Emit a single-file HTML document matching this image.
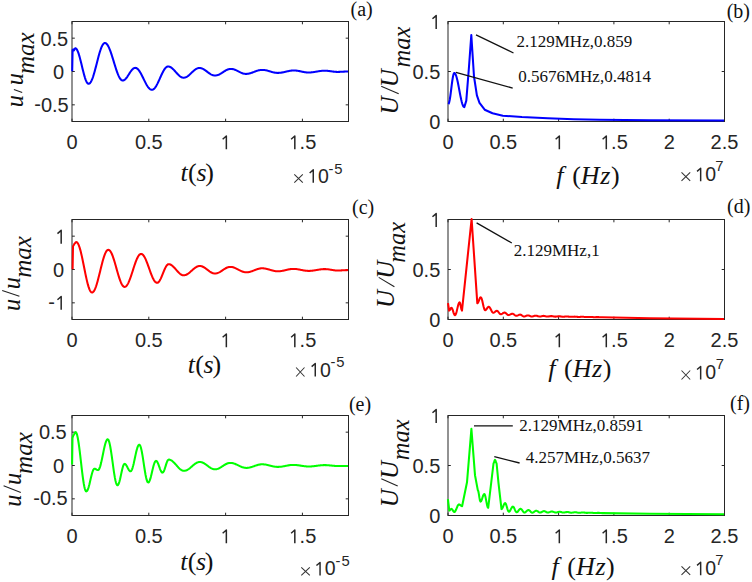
<!DOCTYPE html>
<html><head><meta charset="utf-8"><style>
html,body{margin:0;padding:0;background:#fff;width:752px;height:582px;overflow:hidden;}
svg{display:block;}

</style></head><body>
<svg width="752" height="582" viewBox="0 0 752 582"><path d="M72 121.5 V118.7 M72 21.5 V24.3 M148.81 121.5 V118.7 M148.81 21.5 V24.3 M225.61 121.5 V118.7 M225.61 21.5 V24.3 M302.42 121.5 V118.7 M302.42 21.5 V24.3 M72 38.17 H74.8 M348.5 38.17 H345.7 M72 71.5 H74.8 M348.5 71.5 H345.7 M72 104.83 H74.8 M348.5 104.83 H345.7" stroke="#262626" stroke-width="1" fill="none"/>
<rect x="72" y="21.5" width="276.5" height="100" stroke="#262626" stroke-width="1" fill="none"/>
<path d="M448 121.5 V118.7 M448 21.5 V24.3 M503.3 121.5 V118.7 M503.3 21.5 V24.3 M558.6 121.5 V118.7 M558.6 21.5 V24.3 M613.9 121.5 V118.7 M613.9 21.5 V24.3 M669.2 121.5 V118.7 M669.2 21.5 V24.3 M724.5 121.5 V118.7 M724.5 21.5 V24.3 M448 121.5 H450.8 M724.5 121.5 H721.7 M448 71.5 H450.8 M724.5 71.5 H721.7 M448 21.5 H450.8 M724.5 21.5 H721.7" stroke="#262626" stroke-width="1" fill="none"/>
<rect x="448" y="21.5" width="276.5" height="100" stroke="#262626" stroke-width="1" fill="none"/>
<text x="72" y="149.3" font-family="Liberation Sans" font-size="20" text-anchor="middle" fill="#262626">0</text>
<text x="148.81" y="149.3" font-family="Liberation Sans" font-size="20" text-anchor="middle" fill="#262626">0.5</text>
<path d="M226.35 149.3 V136 L222.65 139.2" stroke="#262626" stroke-width="1.5" fill="none" stroke-linejoin="round"/>
<text x="225.61" y="149.3" font-family="Liberation Sans" font-size="20" text-anchor="middle" fill="#262626">&#x2007;</text>
<path d="M294.82 149.3 V136 L291.12 139.2" stroke="#262626" stroke-width="1.5" fill="none" stroke-linejoin="round"/>
<text x="302.42" y="149.3" font-family="Liberation Sans" font-size="20" text-anchor="middle" fill="#262626">&#x2007;.5</text>
<text x="448" y="149.3" font-family="Liberation Sans" font-size="20" text-anchor="middle" fill="#262626">0</text>
<text x="503.3" y="149.3" font-family="Liberation Sans" font-size="20" text-anchor="middle" fill="#262626">0.5</text>
<path d="M559.34 149.3 V136 L555.64 139.2" stroke="#262626" stroke-width="1.5" fill="none" stroke-linejoin="round"/>
<text x="558.6" y="149.3" font-family="Liberation Sans" font-size="20" text-anchor="middle" fill="#262626">&#x2007;</text>
<path d="M606.3 149.3 V136 L602.6 139.2" stroke="#262626" stroke-width="1.5" fill="none" stroke-linejoin="round"/>
<text x="613.9" y="149.3" font-family="Liberation Sans" font-size="20" text-anchor="middle" fill="#262626">&#x2007;.5</text>
<text x="669.2" y="149.3" font-family="Liberation Sans" font-size="20" text-anchor="middle" fill="#262626">2</text>
<text x="724.5" y="149.3" font-family="Liberation Sans" font-size="20" text-anchor="middle" fill="#262626">2.5</text>
<text x="68.2" y="45.67" font-family="Liberation Sans" font-size="20" text-anchor="end" fill="#262626">0.5</text>
<text x="64" y="79" font-family="Liberation Sans" font-size="20" text-anchor="end" fill="#262626">0</text>
<text x="68.7" y="111.83" font-family="Liberation Sans" font-size="20" text-anchor="end" fill="#262626"><tspan dy="-0.7">-</tspan><tspan dy="0.7">0.5</tspan></text>
<text x="440.3" y="128.9" font-family="Liberation Sans" font-size="20" text-anchor="end" fill="#262626">0</text>
<text x="440.3" y="78.9" font-family="Liberation Sans" font-size="20" text-anchor="end" fill="#262626">0.5</text>
<path d="M436.18 28.9 V15.6 L432.48 18.8" stroke="#262626" stroke-width="1.5" fill="none" stroke-linejoin="round"/>
<text x="441" y="28.9" font-family="Liberation Sans" font-size="20" text-anchor="end" fill="#262626">&#x2007;</text>
<text x="180.6" y="181.1" font-family="Liberation Serif" font-size="26" fill="#111"><tspan font-style="italic">t</tspan><tspan dx="0.2">(</tspan><tspan font-style="italic" dx="-0.3">s</tspan><tspan dx="-1.3">)</tspan></text>
<text x="556.3" y="184" font-family="Liberation Serif" font-size="26" fill="#111"><tspan font-style="italic">f</tspan><tspan dx="8.6">(</tspan><tspan font-style="italic">H</tspan><tspan font-style="italic" dx="0.6">z</tspan><tspan dx="0.6">)</tspan></text>
<path d="M294.3 174.4 L302.8 182.6 M294.3 182.6 L302.8 174.4" stroke="#333" stroke-width="1.05" fill="none"/>
<path d="M313.26 182.8 V169.83 L309.65 172.95" stroke="#262626" stroke-width="1.46" fill="none" stroke-linejoin="round"/>
<text x="307.12" y="182.8" font-family="Liberation Sans" font-size="19.5" text-anchor="start" fill="#262626">&#x2007;0</text>
<text x="328.41" y="173.5" font-family="Liberation Sans" font-size="14.8" fill="#262626">-<tspan dx="1">5</tspan></text>
<path d="M681.5 172.3 L690.2 180.8 M681.5 180.8 L690.2 172.3" stroke="#333" stroke-width="1.05" fill="none"/>
<path d="M700.66 181.2 V168.23 L697.05 171.35" stroke="#262626" stroke-width="1.46" fill="none" stroke-linejoin="round"/>
<text x="694.52" y="181.2" font-family="Liberation Sans" font-size="19.5" text-anchor="start" fill="#262626">&#x2007;0</text>
<text x="715.26" y="171.3" font-family="Liberation Sans" font-size="14.8" fill="#262626">7</text>
<text transform="translate(23 107.3) rotate(-90)" font-family="Liberation Serif" font-style="italic" font-size="24.5" fill="#111">u</text>
<text transform="translate(23 85.3) rotate(-90)" font-family="Liberation Serif" font-style="italic" font-size="24.5" fill="#111">u</text>
<text transform="translate(33.8 74) rotate(-90)" font-family="Liberation Serif" font-style="italic" font-size="25" fill="#111">max</text>
<path d="M13.9 89.4 L22.2 92.6" stroke="#222" stroke-width="1.1" fill="none"/>
<text transform="translate(398.45 114.5) rotate(-90)" font-family="Liberation Serif" font-style="italic" font-size="25" fill="#111">U</text>
<text transform="translate(398.45 87.2) rotate(-90)" font-family="Liberation Serif" font-style="italic" font-size="25" fill="#111">U</text>
<text transform="translate(409.5 67.4) rotate(-90)" font-family="Liberation Serif" font-style="italic" font-size="24.5" fill="#111">max</text>
<path d="M381.2 86.3 L398.7 93.8" stroke="#222" stroke-width="1.1" fill="none"/>
<text x="350.5" y="16" font-family="Liberation Serif" font-size="20" text-anchor="start" fill="#111">(a)</text>
<text x="726.7" y="17.6" font-family="Liberation Serif" font-size="20" text-anchor="start" fill="#111">(b)</text>
<path d="M72 319.5 V316.7 M72 219.5 V222.3 M148.81 319.5 V316.7 M148.81 219.5 V222.3 M225.61 319.5 V316.7 M225.61 219.5 V222.3 M302.42 319.5 V316.7 M302.42 219.5 V222.3 M72 236.17 H74.8 M348.5 236.17 H345.7 M72 269.5 H74.8 M348.5 269.5 H345.7 M72 302.83 H74.8 M348.5 302.83 H345.7" stroke="#262626" stroke-width="1" fill="none"/>
<rect x="72" y="219.5" width="276.5" height="100" stroke="#262626" stroke-width="1" fill="none"/>
<path d="M448 319.5 V316.7 M448 219.5 V222.3 M503.3 319.5 V316.7 M503.3 219.5 V222.3 M558.6 319.5 V316.7 M558.6 219.5 V222.3 M613.9 319.5 V316.7 M613.9 219.5 V222.3 M669.2 319.5 V316.7 M669.2 219.5 V222.3 M724.5 319.5 V316.7 M724.5 219.5 V222.3 M448 319.5 H450.8 M724.5 319.5 H721.7 M448 269.5 H450.8 M724.5 269.5 H721.7 M448 219.5 H450.8 M724.5 219.5 H721.7" stroke="#262626" stroke-width="1" fill="none"/>
<rect x="448" y="219.5" width="276.5" height="100" stroke="#262626" stroke-width="1" fill="none"/>
<text x="72" y="347.3" font-family="Liberation Sans" font-size="20" text-anchor="middle" fill="#262626">0</text>
<text x="148.81" y="347.3" font-family="Liberation Sans" font-size="20" text-anchor="middle" fill="#262626">0.5</text>
<path d="M226.35 347.3 V334 L222.65 337.2" stroke="#262626" stroke-width="1.5" fill="none" stroke-linejoin="round"/>
<text x="225.61" y="347.3" font-family="Liberation Sans" font-size="20" text-anchor="middle" fill="#262626">&#x2007;</text>
<path d="M294.82 347.3 V334 L291.12 337.2" stroke="#262626" stroke-width="1.5" fill="none" stroke-linejoin="round"/>
<text x="302.42" y="347.3" font-family="Liberation Sans" font-size="20" text-anchor="middle" fill="#262626">&#x2007;.5</text>
<text x="448" y="347.3" font-family="Liberation Sans" font-size="20" text-anchor="middle" fill="#262626">0</text>
<text x="503.3" y="347.3" font-family="Liberation Sans" font-size="20" text-anchor="middle" fill="#262626">0.5</text>
<path d="M559.34 347.3 V334 L555.64 337.2" stroke="#262626" stroke-width="1.5" fill="none" stroke-linejoin="round"/>
<text x="558.6" y="347.3" font-family="Liberation Sans" font-size="20" text-anchor="middle" fill="#262626">&#x2007;</text>
<path d="M606.3 347.3 V334 L602.6 337.2" stroke="#262626" stroke-width="1.5" fill="none" stroke-linejoin="round"/>
<text x="613.9" y="347.3" font-family="Liberation Sans" font-size="20" text-anchor="middle" fill="#262626">&#x2007;.5</text>
<text x="669.2" y="347.3" font-family="Liberation Sans" font-size="20" text-anchor="middle" fill="#262626">2</text>
<text x="724.5" y="347.3" font-family="Liberation Sans" font-size="20" text-anchor="middle" fill="#262626">2.5</text>
<path d="M61.18 243.67 V230.37 L57.48 233.57" stroke="#262626" stroke-width="1.5" fill="none" stroke-linejoin="round"/>
<text x="66" y="243.67" font-family="Liberation Sans" font-size="20" text-anchor="end" fill="#262626">&#x2007;</text>
<text x="64" y="277" font-family="Liberation Sans" font-size="20" text-anchor="end" fill="#262626">0</text>
<path d="M61.18 309.83 V296.53 L57.48 299.73" stroke="#262626" stroke-width="1.5" fill="none" stroke-linejoin="round"/>
<text x="66" y="309.83" font-family="Liberation Sans" font-size="20" text-anchor="end" fill="#262626"><tspan dy="-0.7">-</tspan><tspan dy="0.7">&#x2007;</tspan></text>
<text x="440.3" y="326.9" font-family="Liberation Sans" font-size="20" text-anchor="end" fill="#262626">0</text>
<text x="440.3" y="276.9" font-family="Liberation Sans" font-size="20" text-anchor="end" fill="#262626">0.5</text>
<path d="M436.18 226.9 V213.6 L432.48 216.8" stroke="#262626" stroke-width="1.5" fill="none" stroke-linejoin="round"/>
<text x="441" y="226.9" font-family="Liberation Sans" font-size="20" text-anchor="end" fill="#262626">&#x2007;</text>
<text x="187.8" y="372.7" font-family="Liberation Serif" font-size="26" fill="#111"><tspan font-style="italic">t</tspan><tspan dx="0.2">(</tspan><tspan font-style="italic" dx="-0.3">s</tspan><tspan dx="-1.3">)</tspan></text>
<text x="548.2" y="377.3" font-family="Liberation Serif" font-size="26" fill="#111"><tspan font-style="italic">f</tspan><tspan dx="8.6">(</tspan><tspan font-style="italic">H</tspan><tspan font-style="italic" dx="0.6">z</tspan><tspan dx="0.6">)</tspan></text>
<path d="M296.1 367.5 L304.5 376.5 M296.1 376.5 L304.5 367.5" stroke="#333" stroke-width="1.05" fill="none"/>
<path d="M315.26 376.5 V363.53 L311.65 366.65" stroke="#262626" stroke-width="1.46" fill="none" stroke-linejoin="round"/>
<text x="309.12" y="376.5" font-family="Liberation Sans" font-size="19.5" text-anchor="start" fill="#262626">&#x2007;0</text>
<text x="330.41" y="366.5" font-family="Liberation Sans" font-size="14.8" fill="#262626">-<tspan dx="1">5</tspan></text>
<path d="M681.5 370.5 L690.2 379.5 M681.5 379.5 L690.2 370.5" stroke="#333" stroke-width="1.05" fill="none"/>
<path d="M700.66 379.4 V366.43 L697.05 369.55" stroke="#262626" stroke-width="1.46" fill="none" stroke-linejoin="round"/>
<text x="694.52" y="379.4" font-family="Liberation Sans" font-size="19.5" text-anchor="start" fill="#262626">&#x2007;0</text>
<text x="715.66" y="369.1" font-family="Liberation Sans" font-size="14.8" fill="#262626">7</text>
<text transform="translate(19.5 310.9) rotate(-90)" font-family="Liberation Serif" font-style="italic" font-size="24.5" fill="#111">u</text>
<text transform="translate(19.5 289.3) rotate(-90)" font-family="Liberation Serif" font-style="italic" font-size="24.5" fill="#111">u</text>
<text transform="translate(30.6 277.8) rotate(-90)" font-family="Liberation Serif" font-style="italic" font-size="25" fill="#111">max</text>
<path d="M2.2 290.5 L19.4 296.3" stroke="#222" stroke-width="1.1" fill="none"/>
<text transform="translate(394.15 307.9) rotate(-90)" font-family="Liberation Serif" font-style="italic" font-size="25" fill="#111">U</text>
<text transform="translate(394.15 278.7) rotate(-90)" font-family="Liberation Serif" font-style="italic" font-size="25" fill="#111">U</text>
<text transform="translate(404.7 262.7) rotate(-90)" font-family="Liberation Serif" font-style="italic" font-size="24.5" fill="#111">max</text>
<path d="M378.7 277.4 L394.4 286.7" stroke="#222" stroke-width="1.1" fill="none"/>
<text x="352" y="214" font-family="Liberation Serif" font-size="20" text-anchor="start" fill="#111">(c)</text>
<text x="727.1" y="213" font-family="Liberation Serif" font-size="20" text-anchor="start" fill="#111">(d)</text>
<path d="M72 515.5 V512.7 M72 415.5 V418.3 M148.81 515.5 V512.7 M148.81 415.5 V418.3 M225.61 515.5 V512.7 M225.61 415.5 V418.3 M302.42 515.5 V512.7 M302.42 415.5 V418.3 M72 432.17 H74.8 M348.5 432.17 H345.7 M72 465.5 H74.8 M348.5 465.5 H345.7 M72 498.83 H74.8 M348.5 498.83 H345.7" stroke="#262626" stroke-width="1" fill="none"/>
<rect x="72" y="415.5" width="276.5" height="100" stroke="#262626" stroke-width="1" fill="none"/>
<path d="M448 515.5 V512.7 M448 415.5 V418.3 M503.3 515.5 V512.7 M503.3 415.5 V418.3 M558.6 515.5 V512.7 M558.6 415.5 V418.3 M613.9 515.5 V512.7 M613.9 415.5 V418.3 M669.2 515.5 V512.7 M669.2 415.5 V418.3 M724.5 515.5 V512.7 M724.5 415.5 V418.3 M448 515.5 H450.8 M724.5 515.5 H721.7 M448 465.5 H450.8 M724.5 465.5 H721.7 M448 415.5 H450.8 M724.5 415.5 H721.7" stroke="#262626" stroke-width="1" fill="none"/>
<rect x="448" y="415.5" width="276.5" height="100" stroke="#262626" stroke-width="1" fill="none"/>
<text x="72" y="543.3" font-family="Liberation Sans" font-size="20" text-anchor="middle" fill="#262626">0</text>
<text x="148.81" y="543.3" font-family="Liberation Sans" font-size="20" text-anchor="middle" fill="#262626">0.5</text>
<path d="M226.35 543.3 V530 L222.65 533.2" stroke="#262626" stroke-width="1.5" fill="none" stroke-linejoin="round"/>
<text x="225.61" y="543.3" font-family="Liberation Sans" font-size="20" text-anchor="middle" fill="#262626">&#x2007;</text>
<path d="M294.82 543.3 V530 L291.12 533.2" stroke="#262626" stroke-width="1.5" fill="none" stroke-linejoin="round"/>
<text x="302.42" y="543.3" font-family="Liberation Sans" font-size="20" text-anchor="middle" fill="#262626">&#x2007;.5</text>
<text x="448" y="543.3" font-family="Liberation Sans" font-size="20" text-anchor="middle" fill="#262626">0</text>
<text x="503.3" y="543.3" font-family="Liberation Sans" font-size="20" text-anchor="middle" fill="#262626">0.5</text>
<path d="M559.34 543.3 V530 L555.64 533.2" stroke="#262626" stroke-width="1.5" fill="none" stroke-linejoin="round"/>
<text x="558.6" y="543.3" font-family="Liberation Sans" font-size="20" text-anchor="middle" fill="#262626">&#x2007;</text>
<path d="M606.3 543.3 V530 L602.6 533.2" stroke="#262626" stroke-width="1.5" fill="none" stroke-linejoin="round"/>
<text x="613.9" y="543.3" font-family="Liberation Sans" font-size="20" text-anchor="middle" fill="#262626">&#x2007;.5</text>
<text x="669.2" y="543.3" font-family="Liberation Sans" font-size="20" text-anchor="middle" fill="#262626">2</text>
<text x="724.5" y="543.3" font-family="Liberation Sans" font-size="20" text-anchor="middle" fill="#262626">2.5</text>
<text x="66.7" y="438.87" font-family="Liberation Sans" font-size="20" text-anchor="end" fill="#262626">0.5</text>
<text x="64" y="473" font-family="Liberation Sans" font-size="20" text-anchor="end" fill="#262626">0</text>
<text x="67.7" y="505.33" font-family="Liberation Sans" font-size="20" text-anchor="end" fill="#262626"><tspan dy="-0.7">-</tspan><tspan dy="0.7">0.5</tspan></text>
<text x="440.3" y="522.9" font-family="Liberation Sans" font-size="20" text-anchor="end" fill="#262626">0</text>
<text x="440.3" y="472.9" font-family="Liberation Sans" font-size="20" text-anchor="end" fill="#262626">0.5</text>
<path d="M436.18 422.9 V409.6 L432.48 412.8" stroke="#262626" stroke-width="1.5" fill="none" stroke-linejoin="round"/>
<text x="441" y="422.9" font-family="Liberation Sans" font-size="20" text-anchor="end" fill="#262626">&#x2007;</text>
<text x="180.2" y="569.7" font-family="Liberation Serif" font-size="26" fill="#111"><tspan font-style="italic">t</tspan><tspan dx="0.2">(</tspan><tspan font-style="italic" dx="-0.3">s</tspan><tspan dx="-1.3">)</tspan></text>
<text x="551.5" y="575.1" font-family="Liberation Serif" font-size="26" fill="#111"><tspan font-style="italic">f</tspan><tspan dx="8.6">(</tspan><tspan font-style="italic">H</tspan><tspan font-style="italic" dx="0.6">z</tspan><tspan dx="0.6">)</tspan></text>
<path d="M301.3 567.3 L309.8 575.4 M301.3 575.4 L309.8 567.3" stroke="#333" stroke-width="1.05" fill="none"/>
<path d="M320.06 575.4 V562.43 L316.45 565.55" stroke="#262626" stroke-width="1.46" fill="none" stroke-linejoin="round"/>
<text x="313.92" y="575.4" font-family="Liberation Sans" font-size="19.5" text-anchor="start" fill="#262626">&#x2007;0</text>
<text x="335.61" y="565.5" font-family="Liberation Sans" font-size="14.8" fill="#262626">-<tspan dx="1">5</tspan></text>
<path d="M681.5 566.3 L690.2 574.8 M681.5 574.8 L690.2 566.3" stroke="#333" stroke-width="1.05" fill="none"/>
<path d="M700.66 575.2 V562.23 L697.05 565.35" stroke="#262626" stroke-width="1.46" fill="none" stroke-linejoin="round"/>
<text x="694.52" y="575.2" font-family="Liberation Sans" font-size="19.5" text-anchor="start" fill="#262626">&#x2007;0</text>
<text x="715.26" y="564.9" font-family="Liberation Sans" font-size="14.8" fill="#262626">7</text>
<text transform="translate(20.9 506.7) rotate(-90)" font-family="Liberation Serif" font-style="italic" font-size="24.5" fill="#111">u</text>
<text transform="translate(20.9 485) rotate(-90)" font-family="Liberation Serif" font-style="italic" font-size="24.5" fill="#111">u</text>
<text transform="translate(31.7 473.9) rotate(-90)" font-family="Liberation Serif" font-style="italic" font-size="25" fill="#111">max</text>
<path d="M3.6 485.8 L20.8 492.5" stroke="#222" stroke-width="1.1" fill="none"/>
<text transform="translate(398.05 507.3) rotate(-90)" font-family="Liberation Serif" font-style="italic" font-size="25" fill="#111">U</text>
<text transform="translate(398.05 479.1) rotate(-90)" font-family="Liberation Serif" font-style="italic" font-size="25" fill="#111">U</text>
<text transform="translate(408.6 460.3) rotate(-90)" font-family="Liberation Serif" font-style="italic" font-size="24.5" fill="#111">max</text>
<path d="M381.3 478.8 L397.7 486" stroke="#222" stroke-width="1.1" fill="none"/>
<text x="348.9" y="410.5" font-family="Liberation Serif" font-size="20" text-anchor="start" fill="#111">(e)</text>
<text x="730" y="409.8" font-family="Liberation Serif" font-size="20" text-anchor="start" fill="#111">(f)</text>
<path d="M72.2 71.2 L72.6 50 L73.2 49.4 L73.9 50.5 L74.55 49.35 L75.2 48.2 L75.72 48.33 L76.23 48.72 L76.75 49.36 L77.26 50.24 L77.78 51.35 L78.29 52.68 L78.81 54.2 L79.32 55.89 L79.84 57.73 L80.35 59.69 L80.87 61.74 L81.38 63.85 L81.9 66 L82.42 68.15 L82.93 70.26 L83.45 72.31 L83.96 74.27 L84.48 76.11 L84.99 77.8 L85.51 79.32 L86.02 80.65 L86.54 81.76 L87.05 82.64 L87.57 83.28 L88.08 83.67 L88.6 83.8 L89.11 83.7 L89.62 83.41 L90.13 82.92 L90.64 82.25 L91.15 81.39 L91.66 80.36 L92.17 79.17 L92.67 77.82 L93.18 76.34 L93.69 74.73 L94.2 73.02 L94.71 71.21 L95.22 69.32 L95.73 67.38 L96.24 65.4 L96.75 63.4 L97.26 61.4 L97.77 59.42 L98.28 57.48 L98.79 55.59 L99.3 53.78 L99.81 52.07 L100.32 50.46 L100.83 48.98 L101.33 47.63 L101.84 46.44 L102.35 45.41 L102.86 44.55 L103.37 43.88 L103.88 43.39 L104.39 43.1 L104.9 43 L105.41 43.08 L105.92 43.3 L106.43 43.68 L106.93 44.2 L107.44 44.86 L107.95 45.65 L108.46 46.58 L108.97 47.63 L109.48 48.79 L109.99 50.06 L110.49 51.42 L111 52.86 L111.51 54.38 L112.02 55.96 L112.53 57.58 L113.04 59.23 L113.55 60.91 L114.05 62.59 L114.56 64.27 L115.07 65.92 L115.58 67.54 L116.09 69.12 L116.6 70.64 L117.11 72.08 L117.61 73.44 L118.12 74.71 L118.63 75.87 L119.14 76.92 L119.65 77.85 L120.16 78.64 L120.67 79.3 L121.17 79.82 L121.68 80.2 L122.19 80.42 L122.7 80.5 L123.22 80.45 L123.74 80.28 L124.26 80.02 L124.78 79.65 L125.3 79.19 L125.83 78.65 L126.35 78.03 L126.87 77.34 L127.39 76.6 L127.91 75.81 L128.43 75 L128.95 74.17 L129.47 73.35 L129.99 72.54 L130.51 71.75 L131.03 71.01 L131.55 70.32 L132.07 69.7 L132.6 69.16 L133.12 68.7 L133.64 68.33 L134.16 68.07 L134.68 67.9 L135.2 67.85 L135.71 67.9 L136.21 68.05 L136.72 68.29 L137.22 68.64 L137.73 69.07 L138.24 69.59 L138.74 70.2 L139.25 70.88 L139.75 71.64 L140.26 72.46 L140.77 73.34 L141.27 74.27 L141.78 75.24 L142.28 76.24 L142.79 77.26 L143.3 78.3 L143.8 79.35 L144.31 80.39 L144.82 81.41 L145.32 82.41 L145.83 83.38 L146.33 84.31 L146.84 85.19 L147.35 86.01 L147.85 86.77 L148.36 87.45 L148.86 88.06 L149.37 88.58 L149.88 89.01 L150.38 89.36 L150.89 89.6 L151.39 89.75 L151.9 89.8 L152.41 89.74 L152.91 89.58 L153.42 89.3 L153.93 88.91 L154.43 88.42 L154.94 87.84 L155.44 87.16 L155.95 86.39 L156.46 85.54 L156.96 84.62 L157.47 83.64 L157.97 82.61 L158.48 81.53 L158.99 80.42 L159.49 79.29 L160 78.15 L160.51 77.01 L161.01 75.88 L161.52 74.77 L162.03 73.69 L162.53 72.66 L163.04 71.68 L163.54 70.76 L164.05 69.91 L164.56 69.14 L165.06 68.46 L165.57 67.88 L166.07 67.39 L166.58 67 L167.09 66.72 L167.59 66.56 L168.1 66.5 L168.6 66.53 L169.1 66.61 L169.6 66.76 L170.1 66.95 L170.6 67.2 L171.1 67.5 L171.6 67.85 L172.1 68.24 L172.6 68.67 L173.1 69.14 L173.6 69.63 L174.1 70.16 L174.6 70.7 L175.1 71.25 L175.6 71.82 L176.1 72.38 L176.6 72.95 L177.1 73.5 L177.6 74.04 L178.1 74.57 L178.6 75.06 L179.1 75.53 L179.6 75.96 L180.1 76.35 L180.6 76.7 L181.1 77 L181.6 77.25 L182.1 77.44 L182.6 77.59 L183.1 77.67 L183.6 77.7 L184.11 77.68 L184.62 77.6 L185.13 77.48 L185.64 77.31 L186.15 77.09 L186.66 76.83 L187.17 76.53 L187.68 76.19 L188.19 75.82 L188.7 75.42 L189.21 74.99 L189.72 74.53 L190.23 74.07 L190.74 73.58 L191.25 73.1 L191.75 72.6 L192.26 72.12 L192.77 71.63 L193.28 71.17 L193.79 70.71 L194.3 70.28 L194.81 69.88 L195.32 69.51 L195.83 69.17 L196.34 68.87 L196.85 68.61 L197.36 68.39 L197.87 68.22 L198.38 68.1 L198.89 68.02 L199.4 68 L199.9 68.02 L200.41 68.08 L200.91 68.17 L201.41 68.3 L201.92 68.47 L202.42 68.67 L202.92 68.9 L203.43 69.17 L203.93 69.45 L204.43 69.77 L204.94 70.1 L205.44 70.45 L205.94 70.81 L206.45 71.18 L206.95 71.56 L207.45 71.94 L207.95 72.32 L208.46 72.69 L208.96 73.05 L209.46 73.4 L209.97 73.73 L210.47 74.05 L210.97 74.33 L211.48 74.6 L211.98 74.83 L212.48 75.03 L212.99 75.2 L213.49 75.33 L213.99 75.42 L214.5 75.48 L215 75.5 L215.51 75.48 L216.03 75.43 L216.54 75.35 L217.05 75.23 L217.56 75.09 L218.08 74.91 L218.59 74.7 L219.1 74.47 L219.62 74.22 L220.13 73.95 L220.64 73.65 L221.15 73.35 L221.67 73.03 L222.18 72.7 L222.69 72.37 L223.21 72.03 L223.72 71.7 L224.23 71.37 L224.75 71.05 L225.26 70.75 L225.77 70.45 L226.28 70.18 L226.8 69.93 L227.31 69.7 L227.82 69.49 L228.34 69.31 L228.85 69.17 L229.36 69.05 L229.87 68.97 L230.39 68.92 L230.9 68.9 L231.4 68.91 L231.9 68.95 L232.4 69.02 L232.9 69.12 L233.4 69.23 L233.9 69.38 L234.4 69.54 L234.9 69.73 L235.4 69.93 L235.9 70.15 L236.4 70.38 L236.9 70.63 L237.4 70.88 L237.9 71.14 L238.4 71.4 L238.9 71.66 L239.4 71.92 L239.9 72.17 L240.4 72.42 L240.9 72.65 L241.4 72.87 L241.9 73.07 L242.4 73.26 L242.9 73.42 L243.4 73.57 L243.9 73.68 L244.4 73.78 L244.9 73.85 L245.4 73.89 L245.9 73.9 L246.41 73.89 L246.92 73.86 L247.43 73.81 L247.94 73.75 L248.45 73.66 L248.96 73.56 L249.47 73.45 L249.97 73.31 L250.48 73.17 L250.99 73.01 L251.5 72.84 L252.01 72.67 L252.52 72.48 L253.03 72.29 L253.54 72.1 L254.05 71.9 L254.56 71.7 L255.07 71.51 L255.58 71.32 L256.09 71.13 L256.6 70.96 L257.11 70.79 L257.62 70.63 L258.12 70.49 L258.63 70.35 L259.14 70.24 L259.65 70.14 L260.16 70.05 L260.67 69.99 L261.18 69.94 L261.69 69.91 L262.2 69.9 L262.7 69.91 L263.21 69.93 L263.71 69.97 L264.21 70.02 L264.72 70.09 L265.22 70.17 L265.72 70.26 L266.23 70.37 L266.73 70.48 L267.23 70.61 L267.74 70.74 L268.24 70.88 L268.74 71.02 L269.25 71.17 L269.75 71.32 L270.25 71.48 L270.75 71.63 L271.26 71.78 L271.76 71.92 L272.26 72.06 L272.77 72.19 L273.27 72.32 L273.77 72.43 L274.28 72.54 L274.78 72.63 L275.28 72.71 L275.79 72.78 L276.29 72.83 L276.79 72.87 L277.3 72.89 L277.8 72.9 L278.3 72.89 L278.8 72.88 L279.3 72.85 L279.8 72.81 L280.3 72.76 L280.8 72.7 L281.3 72.63 L281.8 72.55 L282.3 72.46 L282.8 72.37 L283.3 72.27 L283.8 72.16 L284.3 72.05 L284.8 71.93 L285.3 71.82 L285.8 71.7 L286.3 71.58 L286.8 71.47 L287.3 71.35 L287.8 71.24 L288.3 71.13 L288.8 71.03 L289.3 70.94 L289.8 70.85 L290.3 70.77 L290.8 70.7 L291.3 70.64 L291.8 70.59 L292.3 70.55 L292.8 70.52 L293.3 70.51 L293.8 70.5 L294.31 70.51 L294.83 70.52 L295.34 70.55 L295.86 70.59 L296.37 70.64 L296.88 70.7 L297.4 70.77 L297.91 70.85 L298.42 70.94 L298.94 71.03 L299.45 71.13 L299.97 71.23 L300.48 71.34 L300.99 71.45 L301.51 71.55 L302.02 71.66 L302.53 71.77 L303.05 71.87 L303.56 71.97 L304.08 72.06 L304.59 72.15 L305.1 72.23 L305.62 72.3 L306.13 72.36 L306.64 72.41 L307.16 72.45 L307.67 72.48 L308.19 72.49 L308.7 72.5 L309.2 72.5 L309.7 72.48 L310.2 72.46 L310.7 72.43 L311.2 72.39 L311.7 72.35 L312.2 72.3 L312.7 72.24 L313.2 72.17 L313.7 72.1 L314.2 72.02 L314.7 71.94 L315.2 71.86 L315.7 71.78 L316.2 71.69 L316.7 71.6 L317.2 71.51 L317.7 71.42 L318.2 71.34 L318.7 71.26 L319.2 71.18 L319.7 71.1 L320.2 71.03 L320.7 70.96 L321.2 70.9 L321.7 70.85 L322.2 70.81 L322.7 70.77 L323.2 70.74 L323.7 70.72 L324.2 70.7 L324.7 70.7 L325.22 70.7 L325.73 70.72 L326.25 70.74 L326.76 70.77 L327.28 70.81 L327.8 70.86 L328.31 70.92 L328.83 70.98 L329.34 71.04 L329.86 71.11 L330.38 71.19 L330.89 71.26 L331.41 71.34 L331.92 71.41 L332.44 71.49 L332.96 71.56 L333.47 71.62 L333.99 71.68 L334.5 71.74 L335.02 71.79 L335.54 71.83 L336.05 71.86 L336.57 71.88 L337.08 71.9 L337.6 71.9 L338.12 71.9 L338.64 71.89 L339.16 71.88 L339.68 71.86 L340.2 71.84 L340.72 71.82 L341.24 71.79 L341.76 71.76 L342.28 71.73 L342.8 71.7 L343.32 71.67 L343.84 71.64 L344.36 71.61 L344.88 71.58 L345.4 71.56 L345.92 71.54 L346.44 71.52 L346.96 71.51 L347.48 71.5 L348 71.5" stroke="#0000ff" stroke-width="2.05" fill="none" stroke-linejoin="round" stroke-linecap="butt"/>
<path d="M72.6 269.3 L73 246.2 L73.8 245 L74.6 243.5 L75.13 243.12 L75.67 242.38 L76.2 242 L76.71 242.13 L77.22 242.52 L77.73 243.16 L78.24 244.05 L78.75 245.17 L79.26 246.53 L79.77 248.09 L80.28 249.85 L80.79 251.79 L81.3 253.89 L81.81 256.13 L82.32 258.48 L82.83 260.92 L83.34 263.43 L83.85 265.97 L84.35 268.53 L84.86 271.07 L85.37 273.58 L85.88 276.02 L86.39 278.37 L86.9 280.61 L87.41 282.71 L87.92 284.65 L88.43 286.41 L88.94 287.97 L89.45 289.33 L89.96 290.45 L90.47 291.34 L90.98 291.98 L91.49 292.37 L92 292.5 L92.51 292.4 L93.02 292.09 L93.53 291.58 L94.04 290.87 L94.55 289.98 L95.06 288.9 L95.57 287.65 L96.08 286.25 L96.58 284.69 L97.09 283.01 L97.6 281.21 L98.11 279.32 L98.62 277.35 L99.13 275.32 L99.64 273.24 L100.15 271.15 L100.66 269.06 L101.17 266.98 L101.68 264.95 L102.19 262.98 L102.7 261.09 L103.21 259.29 L103.72 257.61 L104.22 256.05 L104.73 254.65 L105.24 253.4 L105.75 252.32 L106.26 251.43 L106.77 250.72 L107.28 250.21 L107.79 249.9 L108.3 249.8 L108.81 249.89 L109.32 250.16 L109.83 250.6 L110.34 251.21 L110.85 251.99 L111.36 252.93 L111.87 254.01 L112.38 255.23 L112.88 256.58 L113.39 258.04 L113.9 259.61 L114.41 261.25 L114.92 262.97 L115.43 264.73 L115.94 266.53 L116.45 268.35 L116.96 270.17 L117.47 271.97 L117.98 273.73 L118.49 275.45 L119 277.09 L119.51 278.66 L120.02 280.12 L120.52 281.47 L121.03 282.69 L121.54 283.77 L122.05 284.71 L122.56 285.49 L123.07 286.1 L123.58 286.54 L124.09 286.81 L124.6 286.9 L125.1 286.83 L125.6 286.6 L126.1 286.23 L126.6 285.72 L127.1 285.07 L127.6 284.28 L128.1 283.37 L128.6 282.34 L129.1 281.21 L129.6 279.97 L130.1 278.65 L130.6 277.25 L131.1 275.8 L131.6 274.29 L132.1 272.75 L132.6 271.19 L133.1 269.61 L133.6 268.05 L134.1 266.51 L134.6 265 L135.1 263.55 L135.6 262.15 L136.1 260.83 L136.6 259.59 L137.1 258.46 L137.6 257.43 L138.1 256.52 L138.6 255.73 L139.1 255.08 L139.6 254.57 L140.1 254.2 L140.6 253.97 L141.1 253.9 L141.6 253.97 L142.1 254.18 L142.6 254.52 L143.1 255 L143.6 255.61 L144.1 256.34 L144.6 257.18 L145.1 258.13 L145.6 259.18 L146.1 260.32 L146.6 261.54 L147.1 262.82 L147.6 264.16 L148.1 265.53 L148.6 266.93 L149.1 268.35 L149.6 269.77 L150.1 271.17 L150.6 272.54 L151.1 273.88 L151.6 275.16 L152.1 276.38 L152.6 277.52 L153.1 278.57 L153.6 279.52 L154.1 280.36 L154.6 281.09 L155.1 281.7 L155.6 282.18 L156.1 282.52 L156.6 282.73 L157.1 282.8 L157.6 282.71 L158.11 282.46 L158.61 282.03 L159.12 281.45 L159.62 280.71 L160.13 279.85 L160.63 278.86 L161.13 277.78 L161.64 276.61 L162.14 275.39 L162.65 274.13 L163.15 272.87 L163.66 271.61 L164.16 270.39 L164.67 269.22 L165.17 268.14 L165.67 267.15 L166.18 266.29 L166.68 265.55 L167.19 264.97 L167.69 264.54 L168.2 264.29 L168.7 264.2 L169.21 264.23 L169.73 264.33 L170.24 264.49 L170.76 264.71 L171.27 264.99 L171.78 265.33 L172.3 265.72 L172.81 266.16 L173.32 266.64 L173.84 267.15 L174.35 267.7 L174.87 268.27 L175.38 268.85 L175.89 269.45 L176.41 270.05 L176.92 270.65 L177.43 271.23 L177.95 271.8 L178.46 272.35 L178.98 272.86 L179.49 273.34 L180 273.78 L180.52 274.17 L181.03 274.51 L181.54 274.79 L182.06 275.01 L182.57 275.17 L183.09 275.27 L183.6 275.3 L184.11 275.28 L184.61 275.21 L185.12 275.1 L185.62 274.95 L186.13 274.75 L186.64 274.52 L187.14 274.24 L187.65 273.94 L188.16 273.6 L188.66 273.23 L189.17 272.84 L189.68 272.43 L190.18 272 L190.69 271.56 L191.19 271.11 L191.7 270.65 L192.21 270.19 L192.71 269.74 L193.22 269.3 L193.72 268.87 L194.23 268.46 L194.74 268.07 L195.24 267.7 L195.75 267.36 L196.26 267.06 L196.76 266.78 L197.27 266.55 L197.78 266.35 L198.28 266.2 L198.79 266.09 L199.29 266.02 L199.8 266 L200.31 266.02 L200.81 266.08 L201.32 266.18 L201.83 266.32 L202.33 266.5 L202.84 266.72 L203.35 266.96 L203.85 267.24 L204.36 267.55 L204.87 267.88 L205.37 268.22 L205.88 268.59 L206.39 268.97 L206.89 269.36 L207.4 269.75 L207.91 270.14 L208.41 270.53 L208.92 270.91 L209.43 271.28 L209.93 271.62 L210.44 271.95 L210.95 272.26 L211.45 272.54 L211.96 272.78 L212.47 273 L212.97 273.18 L213.48 273.32 L213.99 273.42 L214.49 273.48 L215 273.5 L215.51 273.48 L216.02 273.43 L216.53 273.34 L217.04 273.21 L217.55 273.06 L218.06 272.87 L218.57 272.65 L219.08 272.41 L219.59 272.14 L220.1 271.85 L220.61 271.54 L221.12 271.22 L221.63 270.89 L222.14 270.54 L222.65 270.2 L223.16 269.86 L223.67 269.51 L224.18 269.18 L224.69 268.86 L225.2 268.55 L225.71 268.26 L226.22 267.99 L226.73 267.75 L227.24 267.53 L227.75 267.34 L228.26 267.19 L228.77 267.06 L229.28 266.97 L229.79 266.92 L230.3 266.9 L230.8 266.91 L231.3 266.95 L231.8 267.02 L232.3 267.11 L232.8 267.22 L233.3 267.36 L233.8 267.51 L234.3 267.69 L234.8 267.89 L235.3 268.1 L235.8 268.33 L236.3 268.57 L236.8 268.82 L237.3 269.07 L237.8 269.34 L238.3 269.6 L238.8 269.86 L239.3 270.13 L239.8 270.38 L240.3 270.63 L240.8 270.87 L241.3 271.1 L241.8 271.31 L242.3 271.51 L242.8 271.69 L243.3 271.84 L243.8 271.98 L244.3 272.09 L244.8 272.18 L245.3 272.25 L245.8 272.29 L246.3 272.3 L246.81 272.29 L247.33 272.26 L247.84 272.21 L248.35 272.14 L248.86 272.05 L249.38 271.94 L249.89 271.82 L250.4 271.68 L250.92 271.52 L251.43 271.36 L251.94 271.18 L252.45 270.99 L252.97 270.8 L253.48 270.6 L253.99 270.4 L254.51 270.2 L255.02 270 L255.53 269.8 L256.05 269.61 L256.56 269.42 L257.07 269.24 L257.58 269.08 L258.1 268.92 L258.61 268.78 L259.12 268.66 L259.64 268.55 L260.15 268.46 L260.66 268.39 L261.17 268.34 L261.69 268.31 L262.2 268.3 L262.7 268.31 L263.21 268.33 L263.71 268.37 L264.21 268.42 L264.72 268.49 L265.22 268.57 L265.72 268.66 L266.23 268.77 L266.73 268.88 L267.23 269.01 L267.74 269.14 L268.24 269.28 L268.74 269.42 L269.25 269.57 L269.75 269.72 L270.25 269.88 L270.75 270.03 L271.26 270.18 L271.76 270.32 L272.26 270.46 L272.77 270.59 L273.27 270.72 L273.77 270.83 L274.28 270.94 L274.78 271.03 L275.28 271.11 L275.79 271.18 L276.29 271.23 L276.79 271.27 L277.3 271.29 L277.8 271.3 L278.3 271.29 L278.81 271.28 L279.31 271.24 L279.81 271.2 L280.32 271.15 L280.82 271.08 L281.32 271.01 L281.83 270.93 L282.33 270.83 L282.83 270.73 L283.34 270.63 L283.84 270.52 L284.34 270.4 L284.85 270.28 L285.35 270.16 L285.85 270.04 L286.35 269.92 L286.86 269.8 L287.36 269.68 L287.86 269.57 L288.37 269.47 L288.87 269.37 L289.37 269.27 L289.88 269.19 L290.38 269.12 L290.88 269.05 L291.39 269 L291.89 268.96 L292.39 268.92 L292.9 268.91 L293.4 268.9 L293.91 268.91 L294.42 268.92 L294.93 268.95 L295.44 268.99 L295.95 269.03 L296.46 269.09 L296.97 269.16 L297.48 269.23 L297.99 269.31 L298.5 269.4 L299.01 269.49 L299.52 269.59 L300.03 269.69 L300.54 269.8 L301.05 269.9 L301.56 270 L302.07 270.11 L302.58 270.21 L303.09 270.31 L303.6 270.4 L304.11 270.49 L304.62 270.57 L305.13 270.64 L305.64 270.71 L306.15 270.77 L306.66 270.81 L307.17 270.85 L307.68 270.88 L308.19 270.89 L308.7 270.9 L309.2 270.9 L309.7 270.88 L310.2 270.86 L310.7 270.83 L311.2 270.79 L311.7 270.75 L312.2 270.7 L312.7 270.64 L313.2 270.57 L313.7 270.5 L314.2 270.42 L314.7 270.34 L315.2 270.26 L315.7 270.18 L316.2 270.09 L316.7 270 L317.2 269.91 L317.7 269.82 L318.2 269.74 L318.7 269.66 L319.2 269.58 L319.7 269.5 L320.2 269.43 L320.7 269.36 L321.2 269.3 L321.7 269.25 L322.2 269.21 L322.7 269.17 L323.2 269.14 L323.7 269.12 L324.2 269.1 L324.7 269.1 L325.22 269.11 L325.73 269.12 L326.25 269.15 L326.76 269.19 L327.28 269.23 L327.8 269.29 L328.31 269.35 L328.83 269.42 L329.34 269.5 L329.86 269.58 L330.38 269.67 L330.89 269.76 L331.41 269.84 L331.92 269.93 L332.44 270.02 L332.96 270.1 L333.47 270.18 L333.99 270.25 L334.5 270.31 L335.02 270.37 L335.54 270.41 L336.05 270.45 L336.57 270.48 L337.08 270.49 L337.6 270.5 L338.12 270.5 L338.64 270.49 L339.16 270.48 L339.68 270.46 L340.2 270.44 L340.72 270.42 L341.24 270.39 L341.76 270.36 L342.28 270.33 L342.8 270.3 L343.32 270.27 L343.84 270.24 L344.36 270.21 L344.88 270.18 L345.4 270.16 L345.92 270.14 L346.44 270.12 L346.96 270.11 L347.48 270.1 L348 270.1" stroke="#ff0000" stroke-width="2.05" fill="none" stroke-linejoin="round" stroke-linecap="butt"/>
<path d="M72.1 464.6 L72.5 438 L73 436.5 L73.5 435 L74.03 434.58 L74.55 433.55 L75.07 432.52 L75.6 432.1 L76.11 432.43 L76.62 433.42 L77.13 435.04 L77.64 437.25 L78.15 440.02 L78.66 443.26 L79.17 446.93 L79.68 450.92 L80.19 455.15 L80.7 459.53 L81.2 463.97 L81.71 468.35 L82.22 472.58 L82.73 476.57 L83.24 480.24 L83.75 483.48 L84.26 486.25 L84.77 488.46 L85.28 490.08 L85.79 491.07 L86.3 491.4 L86.81 491.18 L87.33 490.54 L87.84 489.49 L88.35 488.08 L88.86 486.36 L89.38 484.39 L89.89 482.26 L90.4 480.05 L90.91 477.84 L91.42 475.71 L91.94 473.74 L92.45 472.02 L92.96 470.61 L93.47 469.56 L93.99 468.92 L94.5 468.7 L95 468.77 L95.5 468.96 L96 469.24 L96.5 469.56 L97 469.84 L97.5 470.03 L98 470.1 L98.51 469.89 L99.02 469.27 L99.53 468.24 L100.04 466.85 L100.55 465.13 L101.06 463.12 L101.57 460.89 L102.08 458.48 L102.59 455.97 L103.11 453.43 L103.62 450.92 L104.13 448.51 L104.64 446.28 L105.15 444.27 L105.66 442.55 L106.17 441.16 L106.68 440.13 L107.19 439.51 L107.7 439.3 L108.22 439.61 L108.73 440.55 L109.25 442.07 L109.76 444.15 L110.28 446.72 L110.79 449.72 L111.31 453.06 L111.83 456.65 L112.34 460.4 L112.86 464.2 L113.37 467.95 L113.89 471.54 L114.41 474.88 L114.92 477.88 L115.44 480.45 L115.95 482.53 L116.47 484.05 L116.98 484.99 L117.5 485.3 L118.01 485.03 L118.51 484.24 L119.02 482.97 L119.53 481.27 L120.04 479.24 L120.54 476.98 L121.05 474.6 L121.56 472.22 L122.06 469.96 L122.57 467.93 L123.08 466.23 L123.59 464.96 L124.09 464.17 L124.6 463.9 L125.14 464.05 L125.67 464.49 L126.21 465.18 L126.75 466.06 L127.28 467.07 L127.82 468.13 L128.35 469.14 L128.89 470.02 L129.43 470.71 L129.96 471.15 L130.5 471.3 L131.02 471.07 L131.54 470.4 L132.05 469.31 L132.57 467.83 L133.09 466.02 L133.61 463.93 L134.12 461.64 L134.64 459.23 L135.16 456.77 L135.68 454.36 L136.19 452.07 L136.71 449.98 L137.23 448.17 L137.75 446.69 L138.26 445.6 L138.78 444.93 L139.3 444.7 L139.82 445.02 L140.35 445.98 L140.87 447.53 L141.39 449.63 L141.92 452.21 L142.44 455.18 L142.96 458.43 L143.49 461.86 L144.01 465.34 L144.54 468.77 L145.06 472.02 L145.58 474.99 L146.11 477.57 L146.63 479.67 L147.15 481.22 L147.68 482.18 L148.2 482.5 L148.72 482.26 L149.24 481.57 L149.76 480.44 L150.28 478.93 L150.8 477.1 L151.32 475.04 L151.84 472.83 L152.36 470.57 L152.88 468.36 L153.4 466.3 L153.92 464.47 L154.44 462.96 L154.96 461.83 L155.48 461.14 L156 460.9 L156.5 461.07 L157 461.57 L157.5 462.37 L158 463.43 L158.5 464.68 L159 466.04 L159.5 467.46 L160 468.82 L160.5 470.07 L161 471.13 L161.5 471.93 L162 472.43 L162.5 472.6 L163.02 472.38 L163.53 471.73 L164.05 470.7 L164.57 469.35 L165.08 467.78 L165.6 466.1 L166.12 464.42 L166.63 462.85 L167.15 461.5 L167.67 460.47 L168.18 459.82 L168.7 459.6 L169.21 459.63 L169.72 459.72 L170.23 459.87 L170.74 460.08 L171.25 460.35 L171.76 460.67 L172.27 461.04 L172.78 461.45 L173.29 461.91 L173.8 462.4 L174.31 462.92 L174.82 463.47 L175.33 464.04 L175.84 464.61 L176.35 465.2 L176.86 465.79 L177.37 466.36 L177.88 466.93 L178.39 467.48 L178.9 468 L179.41 468.49 L179.92 468.95 L180.43 469.36 L180.94 469.73 L181.45 470.05 L181.96 470.32 L182.47 470.53 L182.98 470.68 L183.49 470.77 L184 470.8 L184.51 470.78 L185.02 470.71 L185.53 470.6 L186.04 470.44 L186.55 470.25 L187.06 470.01 L187.57 469.74 L188.08 469.43 L188.59 469.09 L189.1 468.73 L189.61 468.34 L190.12 467.93 L190.63 467.5 L191.14 467.07 L191.65 466.62 L192.15 466.18 L192.66 465.73 L193.17 465.3 L193.68 464.87 L194.19 464.46 L194.7 464.07 L195.21 463.71 L195.72 463.37 L196.23 463.06 L196.74 462.79 L197.25 462.55 L197.76 462.36 L198.27 462.2 L198.78 462.09 L199.29 462.02 L199.8 462 L200.31 462.02 L200.81 462.08 L201.32 462.18 L201.83 462.32 L202.33 462.49 L202.84 462.7 L203.35 462.94 L203.85 463.21 L204.36 463.5 L204.87 463.82 L205.37 464.17 L205.88 464.52 L206.39 464.89 L206.89 465.27 L207.4 465.65 L207.91 466.03 L208.41 466.41 L208.92 466.78 L209.43 467.13 L209.93 467.48 L210.44 467.8 L210.95 468.09 L211.45 468.36 L211.96 468.6 L212.47 468.81 L212.97 468.98 L213.48 469.12 L213.99 469.22 L214.49 469.28 L215 469.3 L215.51 469.28 L216.02 469.23 L216.53 469.14 L217.04 469.02 L217.55 468.87 L218.06 468.69 L218.57 468.48 L219.08 468.24 L219.59 467.98 L220.1 467.7 L220.61 467.4 L221.12 467.09 L221.63 466.77 L222.14 466.43 L222.65 466.1 L223.16 465.77 L223.67 465.43 L224.18 465.11 L224.69 464.8 L225.2 464.5 L225.71 464.22 L226.22 463.96 L226.73 463.72 L227.24 463.51 L227.75 463.33 L228.26 463.18 L228.77 463.06 L229.28 462.97 L229.79 462.92 L230.3 462.9 L230.8 462.91 L231.3 462.95 L231.8 463.01 L232.3 463.09 L232.8 463.2 L233.3 463.32 L233.8 463.47 L234.3 463.63 L234.8 463.81 L235.3 464.01 L235.8 464.22 L236.3 464.44 L236.8 464.67 L237.3 464.91 L237.8 465.15 L238.3 465.4 L238.8 465.65 L239.3 465.89 L239.8 466.13 L240.3 466.36 L240.8 466.58 L241.3 466.79 L241.8 466.99 L242.3 467.17 L242.8 467.33 L243.3 467.48 L243.8 467.6 L244.3 467.71 L244.8 467.79 L245.3 467.85 L245.8 467.89 L246.3 467.9 L246.81 467.89 L247.33 467.86 L247.84 467.82 L248.35 467.75 L248.86 467.67 L249.38 467.58 L249.89 467.47 L250.4 467.34 L250.92 467.2 L251.43 467.05 L251.94 466.89 L252.45 466.73 L252.97 466.55 L253.48 466.37 L253.99 466.19 L254.51 466.01 L255.02 465.83 L255.53 465.65 L256.05 465.47 L256.56 465.31 L257.07 465.15 L257.58 465 L258.1 464.86 L258.61 464.73 L259.12 464.62 L259.64 464.53 L260.15 464.45 L260.66 464.38 L261.17 464.34 L261.69 464.31 L262.2 464.3 L262.7 464.31 L263.21 464.33 L263.71 464.36 L264.21 464.41 L264.72 464.46 L265.22 464.53 L265.72 464.61 L266.23 464.7 L266.73 464.8 L267.23 464.91 L267.74 465.03 L268.24 465.15 L268.74 465.27 L269.25 465.4 L269.75 465.53 L270.25 465.67 L270.75 465.8 L271.26 465.93 L271.76 466.05 L272.26 466.17 L272.77 466.29 L273.27 466.4 L273.77 466.5 L274.28 466.59 L274.78 466.67 L275.28 466.74 L275.79 466.79 L276.29 466.84 L276.79 466.87 L277.3 466.89 L277.8 466.9 L278.3 466.89 L278.81 466.88 L279.31 466.85 L279.81 466.82 L280.32 466.77 L280.82 466.72 L281.32 466.66 L281.83 466.59 L282.33 466.51 L282.83 466.43 L283.34 466.34 L283.84 466.25 L284.34 466.15 L284.85 466.05 L285.35 465.95 L285.85 465.85 L286.35 465.75 L286.86 465.65 L287.36 465.55 L287.86 465.46 L288.37 465.37 L288.87 465.29 L289.37 465.21 L289.88 465.14 L290.38 465.08 L290.88 465.03 L291.39 464.98 L291.89 464.95 L292.39 464.92 L292.9 464.91 L293.4 464.9 L293.91 464.9 L294.42 464.92 L294.93 464.94 L295.44 464.97 L295.95 465.01 L296.46 465.05 L296.97 465.11 L297.48 465.16 L297.99 465.23 L298.5 465.3 L299.01 465.37 L299.52 465.45 L300.03 465.53 L300.54 465.62 L301.05 465.7 L301.56 465.78 L302.07 465.87 L302.58 465.95 L303.09 466.03 L303.6 466.1 L304.11 466.17 L304.62 466.24 L305.13 466.29 L305.64 466.35 L306.15 466.39 L306.66 466.43 L307.17 466.46 L307.68 466.48 L308.19 466.5 L308.7 466.5 L309.2 466.5 L309.7 466.49 L310.2 466.47 L310.7 466.45 L311.2 466.42 L311.7 466.38 L312.2 466.34 L312.7 466.29 L313.2 466.24 L313.7 466.19 L314.2 466.13 L314.7 466.07 L315.2 466 L315.7 465.94 L316.2 465.87 L316.7 465.8 L317.2 465.73 L317.7 465.66 L318.2 465.6 L318.7 465.53 L319.2 465.47 L319.7 465.41 L320.2 465.36 L320.7 465.31 L321.2 465.26 L321.7 465.22 L322.2 465.18 L322.7 465.15 L323.2 465.13 L323.7 465.11 L324.2 465.1 L324.7 465.1 L325.22 465.1 L325.73 465.11 L326.25 465.13 L326.76 465.16 L327.28 465.19 L327.8 465.22 L328.31 465.26 L328.83 465.31 L329.34 465.36 L329.86 465.41 L330.38 465.47 L330.89 465.52 L331.41 465.58 L331.92 465.63 L332.44 465.69 L332.96 465.74 L333.47 465.79 L333.99 465.84 L334.5 465.88 L335.02 465.91 L335.54 465.94 L336.05 465.97 L336.57 465.99 L337.08 466 L337.6 466 L338.12 466 L338.64 466 L339.16 465.99 L339.68 465.99 L340.2 465.99 L340.72 465.98 L341.24 465.97 L341.76 465.97 L342.28 465.96 L342.8 465.95 L343.32 465.94 L343.84 465.93 L344.36 465.93 L344.88 465.92 L345.4 465.91 L345.92 465.91 L346.44 465.91 L346.96 465.9 L347.48 465.9 L348 465.9" stroke="#00ff00" stroke-width="2.05" fill="none" stroke-linejoin="round" stroke-linecap="butt"/>
<path d="M448.3 104 L448.8 103.47 L449.3 101.92 L449.8 99.46 L450.3 96.25 L450.8 92.51 L451.3 88.5 L451.8 84.49 L452.3 80.75 L452.8 77.54 L453.3 75.08 L453.8 73.53 L454.3 73 L454.8 73.21 L455.3 73.83 L455.8 74.86 L456.3 76.26 L456.8 77.99 L457.3 80.03 L457.8 82.31 L458.3 84.78 L458.8 87.38 L459.3 90.05 L459.8 92.72 L460.3 95.32 L460.8 97.79 L461.3 100.07 L461.8 102.11 L462.3 103.84 L462.8 105.24 L463.3 106.27 L463.8 106.89 L464.3 107.1 L466.3 100.6 L468.9 68 L471.3 35 L474 76.5 L476.9 95.4 L479.5 102.8 L484.7 109.7 L492.5 113.2 L502.8 115.7 L521.9 117.1 L547.8 118.3 L573.7 119.2 L599.6 119.7 L650 120.2 L724 120.6" stroke="#0000ff" stroke-width="2.05" fill="none" stroke-linejoin="round" stroke-linecap="butt"/>
<path d="M448 303.2 L448.55 306.9 L449.1 310.6 L449.68 310.19 L450.25 309.2 L450.82 308.21 L451.4 307.8 L451.91 308.17 L452.43 309.19 L452.94 310.68 L453.46 312.32 L453.97 313.81 L454.49 314.83 L455 315.2 L455.51 314.81 L456.02 313.69 L456.53 311.98 L457.04 309.87 L457.56 307.63 L458.07 305.53 L458.58 303.81 L459.09 302.69 L459.6 302.3 L460.2 303.52 L460.8 306.45 L461.4 309.38 L462 310.6 L471.6 219 L477.3 303.3 L477.87 302.9 L478.43 301.8 L479 300.3 L479.57 298.8 L480.13 297.7 L480.7 297.3 L481.2 297.69 L481.7 298.82 L482.2 300.55 L482.7 302.67 L483.2 304.93 L483.7 307.05 L484.2 308.78 L484.7 309.91 L485.2 310.3 L485.7 310.13 L486.2 309.64 L486.7 308.94 L487.2 308.16 L487.7 307.46 L488.2 306.97 L488.7 306.8 L489.21 306.98 L489.72 307.5 L490.23 308.3 L490.74 309.28 L491.26 310.32 L491.77 311.3 L492.28 312.1 L492.79 312.62 L493.3 312.8 L493.8 312.7 L494.3 312.42 L494.8 312.02 L495.3 311.58 L495.8 311.18 L496.3 310.9 L496.8 310.8 L497.3 310.93 L497.8 311.3 L498.3 311.85 L498.8 312.5 L499.3 313.15 L499.8 313.7 L500.3 314.07 L500.8 314.2 L501.34 314.12 L501.89 313.88 L502.43 313.54 L502.97 313.16 L503.51 312.82 L504.06 312.58 L504.6 312.5 L505.14 312.63 L505.69 312.99 L506.23 313.51 L506.77 314.09 L507.31 314.61 L507.86 314.97 L508.4 315.1 L508.9 315.05 L509.4 314.89 L509.9 314.67 L510.4 314.4 L510.9 314.13 L511.4 313.91 L511.9 313.75 L512.4 313.7 L512.96 313.8 L513.51 314.1 L514.07 314.52 L514.63 314.98 L515.19 315.4 L515.74 315.7 L516.3 315.8 L516.84 315.74 L517.39 315.57 L517.93 315.33 L518.47 315.07 L519.01 314.83 L519.56 314.66 L520.1 314.6 L520.66 314.69 L521.21 314.95 L521.77 315.33 L522.33 315.74 L522.89 316.12 L523.44 316.38 L524 316.47 L524.56 316.42 L525.11 316.27 L525.67 316.06 L526.23 315.82 L526.79 315.61 L527.34 315.46 L527.9 315.41 L528.46 315.46 L529.01 315.61 L529.57 315.82 L530.13 316.06 L530.69 316.27 L531.24 316.42 L531.8 316.47 L532.36 316.43 L532.91 316.32 L533.47 316.16 L534.03 315.98 L534.59 315.82 L535.14 315.71 L535.7 315.67 L536.26 315.71 L536.81 315.82 L537.37 315.99 L537.93 316.18 L538.49 316.35 L539.04 316.46 L539.6 316.5 L540.16 316.47 L540.71 316.39 L541.27 316.27 L541.83 316.13 L542.39 316.01 L542.94 315.92 L543.5 315.89 L544.06 315.93 L544.61 316.02 L545.17 316.15 L545.73 316.3 L546.29 316.43 L546.84 316.53 L547.4 316.56 L547.96 316.54 L548.51 316.47 L549.07 316.38 L549.63 316.28 L550.19 316.19 L550.74 316.13 L551.3 316.1 L551.86 316.13 L552.41 316.2 L552.97 316.31 L553.53 316.43 L554.09 316.53 L554.64 316.61 L555.2 316.63 L555.76 316.62 L556.31 316.57 L556.87 316.5 L557.43 316.43 L557.99 316.36 L558.54 316.31 L559.1 316.29 L559.66 316.32 L560.21 316.37 L560.77 316.46 L561.33 316.55 L561.89 316.64 L562.44 316.7 L563 316.72 L563.56 316.71 L564.11 316.67 L564.67 316.62 L565.23 316.57 L565.79 316.52 L566.34 316.49 L566.9 316.47 L567.46 316.49 L568.01 316.54 L568.57 316.61 L569.13 316.68 L569.69 316.75 L570.24 316.8 L570.8 316.82 L571.36 316.81 L571.91 316.79 L572.47 316.75 L573.03 316.71 L573.59 316.68 L574.14 316.65 L574.7 316.64 L575.26 316.66 L575.81 316.7 L576.37 316.75 L576.93 316.82 L577.49 316.87 L578.04 316.91 L578.6 316.93 L579.16 316.92 L579.71 316.9 L580.27 316.88 L580.83 316.85 L581.39 316.83 L581.94 316.81 L582.5 316.81 L583.06 316.82 L583.61 316.85 L584.17 316.9 L584.73 316.95 L585.29 317 L585.84 317.03 L586.4 317.04 L586.96 317.04 L587.51 317.02 L588.07 317.01 L588.63 316.99 L589.19 316.98 L589.74 316.97 L590.3 316.96 L590.86 316.97 L591.41 317 L591.97 317.04 L592.53 317.08 L593.09 317.12 L593.64 317.15 L594.2 317.16 L594.76 317.16 L595.31 317.15 L595.87 317.14 L596.43 317.13 L596.99 317.12 L597.54 317.12 L598.1 317.11 L598.66 317.12 L599.21 317.15 L599.77 317.18 L600.33 317.22 L600.89 317.25 L601.44 317.27 L602 317.28 L650 318.3 L724 318.9" stroke="#ff0000" stroke-width="2.05" fill="none" stroke-linejoin="round" stroke-linecap="butt"/>
<path d="M447.9 499.1 L448.6 504.85 L449.3 510.6 L449.82 510.34 L450.35 509.7 L450.88 509.06 L451.4 508.8 L451.98 509.11 L452.56 509.91 L453.14 510.89 L453.72 511.69 L454.3 512 L454.82 511.77 L455.34 511.11 L455.87 510.1 L456.39 508.86 L456.91 507.54 L457.43 506.3 L457.96 505.29 L458.48 504.63 L459 504.4 L459.52 504.52 L460.03 504.85 L460.55 505.3 L461.07 505.75 L461.58 506.08 L462.1 506.2 L467 482.3 L471.4 428.8 L475 475.2 L477.8 490.1 L478.34 491.2 L478.88 494.07 L479.42 497.63 L479.96 500.5 L480.5 501.6 L481.04 501.22 L481.59 500.17 L482.13 498.65 L482.67 496.95 L483.21 495.43 L483.76 494.38 L484.3 494 L484.86 494.68 L485.41 496.6 L485.97 499.36 L486.53 502.44 L487.09 505.2 L487.64 507.12 L488.2 507.8 L493.5 463.5 L494 462.57 L494.5 460.73 L495 459.8 L495.53 460.73 L496.07 462.57 L496.6 463.5 L498.5 483.2 L501.5 509.1 L502.01 508.8 L502.53 507.97 L503.04 506.77 L503.56 505.43 L504.07 504.23 L504.59 503.4 L505.1 503.1 L505.64 503.53 L506.19 504.72 L506.73 506.44 L507.27 508.36 L507.81 510.08 L508.36 511.27 L508.9 511.7 L509.4 511.51 L509.9 510.95 L510.4 510.13 L510.9 509.15 L511.4 508.17 L511.9 507.35 L512.4 506.79 L512.9 506.6 L513.44 506.88 L513.99 507.67 L514.53 508.82 L515.07 510.08 L515.61 511.23 L516.16 512.02 L516.7 512.3 L517.24 512.13 L517.79 511.64 L518.33 510.94 L518.87 510.16 L519.41 509.46 L519.96 508.97 L520.5 508.8 L521 508.94 L521.5 509.36 L522 509.97 L522.5 510.7 L523 511.43 L523.5 512.04 L524 512.46 L524.5 512.6 L525.06 512.47 L525.61 512.11 L526.17 511.59 L526.73 511.01 L527.29 510.49 L527.84 510.13 L528.4 510 L528.96 510.13 L529.51 510.51 L530.07 511.05 L530.63 511.64 L531.19 512.18 L531.74 512.56 L532.3 512.69 L532.86 512.59 L533.41 512.32 L533.97 511.92 L534.53 511.48 L535.09 511.09 L535.64 510.81 L536.2 510.71 L536.76 510.81 L537.31 511.07 L537.87 511.44 L538.43 511.86 L538.99 512.23 L539.54 512.49 L540.1 512.58 L540.66 512.51 L541.21 512.31 L541.77 512.01 L542.33 511.68 L542.89 511.39 L543.44 511.18 L544 511.11 L544.56 511.18 L545.11 511.38 L545.67 511.67 L546.23 511.99 L546.79 512.27 L547.34 512.47 L547.9 512.54 L548.46 512.49 L549.01 512.34 L549.57 512.12 L550.13 511.87 L550.69 511.65 L551.24 511.5 L551.8 511.45 L552.36 511.5 L552.91 511.66 L553.47 511.88 L554.03 512.12 L554.59 512.35 L555.14 512.5 L555.7 512.55 L556.26 512.51 L556.81 512.4 L557.37 512.24 L557.93 512.06 L558.49 511.9 L559.04 511.78 L559.6 511.74 L560.16 511.79 L560.71 511.9 L561.27 512.08 L561.83 512.27 L562.39 512.44 L562.94 512.56 L563.5 512.6 L564.06 512.57 L564.61 512.49 L565.17 512.37 L565.73 512.24 L566.29 512.12 L566.84 512.04 L567.4 512.01 L567.96 512.04 L568.51 512.13 L569.07 512.27 L569.63 512.42 L570.19 512.55 L570.74 512.64 L571.3 512.68 L571.86 512.65 L572.41 512.59 L572.97 512.51 L573.53 512.41 L574.09 512.33 L574.64 512.27 L575.2 512.25 L575.76 512.27 L576.31 512.34 L576.87 512.45 L577.43 512.57 L577.99 512.67 L578.54 512.75 L579.1 512.77 L579.66 512.76 L580.21 512.71 L580.77 512.65 L581.33 512.58 L581.89 512.52 L582.44 512.48 L583 512.47 L583.56 512.49 L584.11 512.54 L584.67 512.63 L585.23 512.72 L585.79 512.8 L586.34 512.86 L586.9 512.88 L587.46 512.87 L588.01 512.84 L588.57 512.8 L589.13 512.75 L589.69 512.71 L590.24 512.68 L590.8 512.67 L591.36 512.69 L591.91 512.74 L592.47 512.8 L593.03 512.88 L593.59 512.94 L594.14 512.99 L594.7 513.01 L595.26 513 L595.81 512.98 L596.37 512.95 L596.93 512.92 L597.49 512.89 L598.04 512.87 L598.6 512.87 L599.16 512.88 L599.71 512.92 L600.27 512.97 L600.83 513.04 L601.39 513.09 L601.94 513.13 L602.5 513.14 L650 513.8 L724 514.2" stroke="#00ff00" stroke-width="2.05" fill="none" stroke-linejoin="round" stroke-linecap="butt"/>
<path d="M476 34.9 L513.5 53 M455.9 72.3 L512.7 88.1 M476.6 222.9 L511.8 243 M474 425.9 L512.8 425.9 M494.3 456.6 L519.6 463" stroke="#111" stroke-width="1.3" fill="none"/>
<text x="516.5" y="47.2" font-family="Liberation Serif" font-size="17" text-anchor="start" fill="#111">2.129MHz,0.859</text>
<text x="518.2" y="82.3" font-family="Liberation Serif" font-size="17" text-anchor="start" fill="#111">0.5676MHz,0.4814</text>
<text x="513.7" y="255.6" font-family="Liberation Serif" font-size="17" text-anchor="start" fill="#111">2.129MHz,1</text>
<text x="519.3" y="431.3" font-family="Liberation Serif" font-size="17" text-anchor="start" fill="#111">2.129MHz,0.8591</text>
<text x="525.7" y="463.3" font-family="Liberation Serif" font-size="17" text-anchor="start" fill="#111">4.257MHz,0.5637</text></svg>
</body></html>
